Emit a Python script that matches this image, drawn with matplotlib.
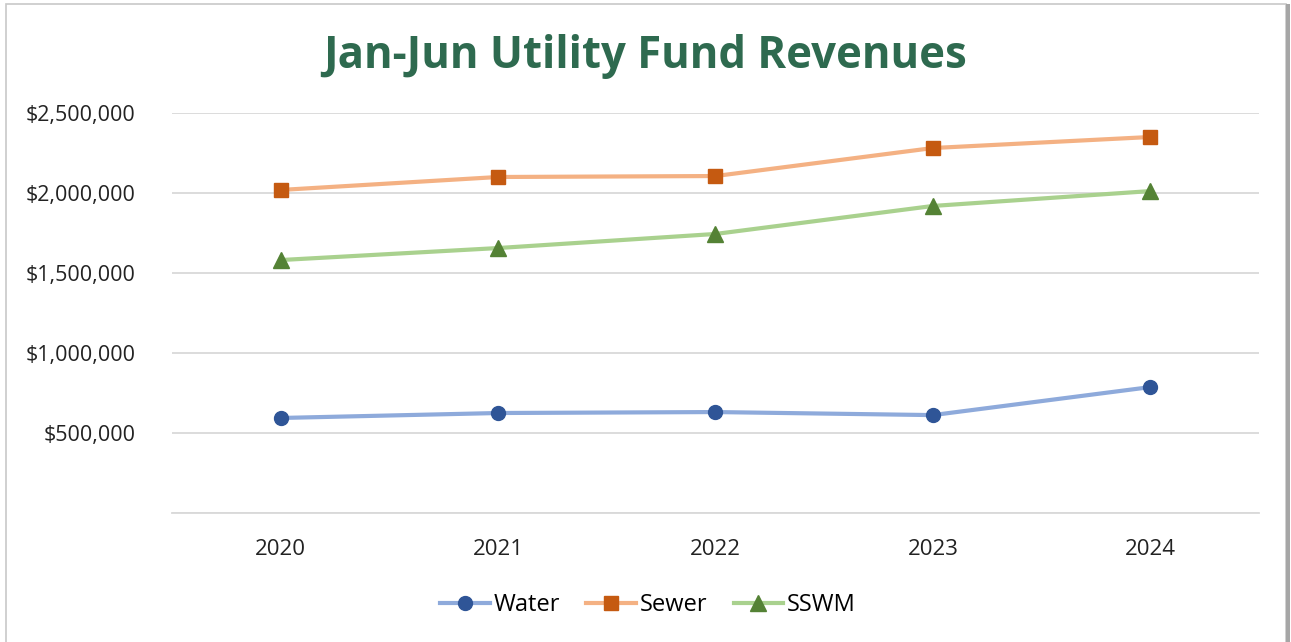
import numpy as np
import matplotlib.pyplot as plt
from matplotlib.patches import Rectangle

plt.rcParams['font.family'] = ['Open Sans', 'DejaVu Sans']

years = ["2020", "2021", "2022", "2023", "2024"]
water = [594000, 625000, 631000, 612000, 787000]
sewer = [2019000, 2100000, 2106000, 2281000, 2350000]
sswm = [1581000, 1656000, 1744000, 1919000, 2012000]

yticks = [0, 500000, 1000000, 1500000, 2000000, 2500000]
ytick_labels = ["", "$500,000", "$1,000,000", "$1,500,000", "$2,000,000", "$2,500,000"]

series = [
    ("Water", water, "#8eaadb", "#2f5597", "o", 10),
    ("Sewer", sewer, "#f4b183", "#c55a11", "s", 10),
    ("SSWM", sswm, "#a9d18e", "#548235", "^", 11),
]

fig = plt.figure(figsize=(12.91, 6.42), dpi=100)
ax = fig.add_axes([0.1332, 0.2009, 0.842, 0.6231])

x = np.arange(len(years))
for name, vals, lc, mc, mk, ms in series:
    ax.plot(x, vals, color=lc, lw=3, marker=mk, ms=ms,
            markerfacecolor=mc, markeredgecolor=mc, label=name)

ax.set_xlim(-0.5, len(years) - 0.5)
ax.set_ylim(0, 2500000)
ax.set_xticks(x)
ax.set_xticklabels(years, fontsize=16, color="#222222")
ax.set_yticks(yticks)
ax.set_yticklabels(ytick_labels, fontsize=15.5, color="#222222")
ax.tick_params(length=0)
ax.tick_params(axis="x", pad=19)
ax.tick_params(axis="y", pad=26)
for lbl in ax.get_yticklabels():
    lbl.set_horizontalalignment("right")

ax.grid(axis="y", color="#d9d9d9", lw=1.3)
ax.set_axisbelow(True)
for s in ["top", "right", "left"]:
    ax.spines[s].set_visible(False)
ax.spines["bottom"].set_color("#d9d9d9")
ax.spines["bottom"].set_linewidth(1.3)

fig.text(0.5, 0.912, "Jan-Jun Utility Fund Revenues", ha="center", va="center",
         fontsize=31.5, fontweight="bold", color="#2e6a4f")

fig.legend(loc="center", bbox_to_anchor=(0.502, 0.057), ncol=3, frameon=False,
           fontsize=17, handlelength=2.1, columnspacing=1.1, handletextpad=0.17)

# chart border
fig.patches.append(Rectangle((0.005, -0.01), 0.9915, 1.004, transform=fig.transFigure,
                             fill=False, edgecolor="#c8c8c8", lw=1.2))
fig.patches.append(Rectangle((0.9965, 0.0), 0.0025, 0.994, transform=fig.transFigure,
                             facecolor="#a6a6a6", edgecolor="none"))

fig.savefig("out.png", dpi=100)
